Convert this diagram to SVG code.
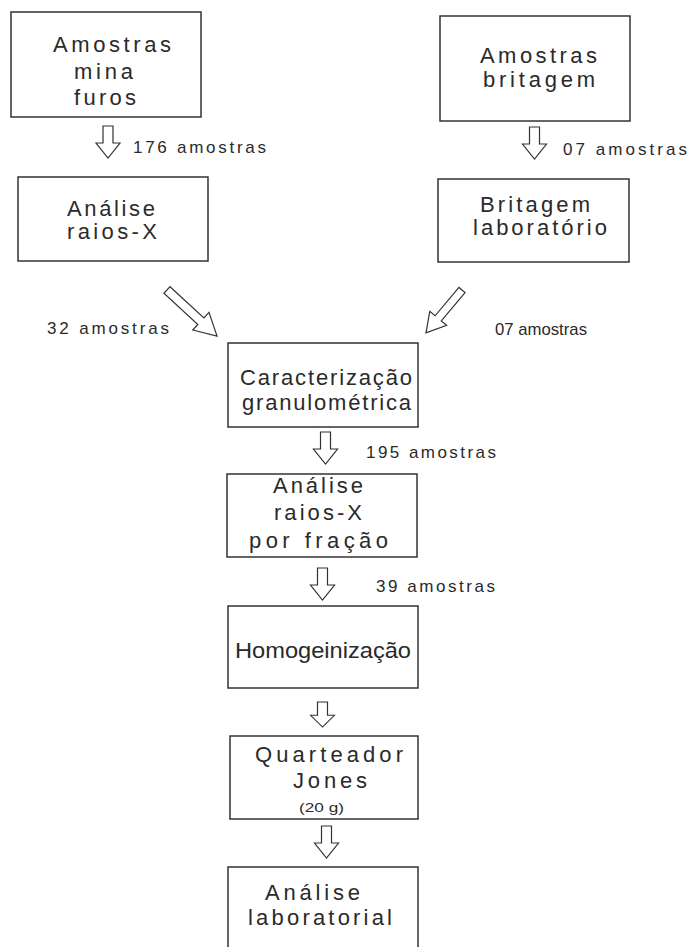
<svg xmlns="http://www.w3.org/2000/svg" width="690" height="947" viewBox="0 0 690 947">
<style>
.box{fill:#fff;stroke:#333;stroke-width:1.5}
.t{font-family:"Liberation Sans",Arial,sans-serif;font-size:22px;fill:#2a2a2a}
.l{font-family:"Liberation Sans",Arial,sans-serif;font-size:17px;fill:#2a2a2a}
.s{font-family:"Liberation Sans",Arial,sans-serif;font-size:12px;fill:#2a2a2a}
.arr{fill:#fff;stroke:#333;stroke-width:1.2;stroke-linejoin:miter}
</style>
<defs>
<polygon id="down" points="-5,0 5,0 5,17 12,17 0,32 -12,17 -5,17"/>
</defs>
<rect width="690" height="947" fill="#fff"/>
<g id="n1"><rect class="box" x="11" y="12" width="190" height="105"/>
<text class="t" x="53" y="52" textLength="118" lengthAdjust="spacing">Amostras</text>
<text class="t" x="74" y="79" textLength="59" lengthAdjust="spacing">mina</text>
<text class="t" x="74" y="105" textLength="62" lengthAdjust="spacing">furos</text></g>
<g id="n2"><rect class="box" x="440" y="16" width="190" height="105"/>
<text class="t" x="480" y="63" textLength="117" lengthAdjust="spacing">Amostras</text>
<text class="t" x="483" y="87" textLength="112" lengthAdjust="spacing">britagem</text></g>
<g id="n3"><rect class="box" x="18" y="177" width="190" height="84"/>
<text class="t" x="67" y="216" textLength="88" lengthAdjust="spacing">Análise</text>
<text class="t" x="67" y="239" textLength="90" lengthAdjust="spacing">raios-X</text></g>
<g id="n4"><rect class="box" x="438" y="179" width="191" height="83"/>
<text class="t" x="480" y="212" textLength="110" lengthAdjust="spacing">Britagem</text>
<text class="t" x="473" y="235" textLength="134" lengthAdjust="spacing">laboratório</text></g>
<g id="n5"><rect class="box" x="228" y="343" width="190" height="84"/>
<text class="t" x="240" y="385" textLength="172" lengthAdjust="spacing">Caracterização</text>
<text class="t" x="242" y="410" textLength="169" lengthAdjust="spacing">granulométrica</text></g>
<g id="n6"><rect class="box" x="227" y="474" width="190" height="83"/>
<text class="t" x="273" y="493" textLength="90" lengthAdjust="spacing">Análise</text>
<text class="t" x="274" y="520" textLength="88" lengthAdjust="spacing">raios-X</text>
<text class="t" x="249" y="548" textLength="139" lengthAdjust="spacing">por fração</text></g>
<g id="n7"><rect class="box" x="228" y="606" width="190" height="82"/>
<text class="t" x="235" y="658" textLength="176" lengthAdjust="spacingAndGlyphs">Homogeinização</text></g>
<g id="n8"><rect class="box" x="230" y="736" width="188" height="83"/>
<text class="t" x="255" y="762" textLength="148" lengthAdjust="spacing">Quarteador</text>
<text class="t" x="293" y="788" textLength="74" lengthAdjust="spacing">Jones</text>
<text class="s" x="299" y="812" textLength="45" lengthAdjust="spacingAndGlyphs">(20 g)</text></g>
<g id="n9"><rect class="box" x="228" y="867" width="190" height="100"/>
<text class="t" x="265" y="900" textLength="95" lengthAdjust="spacing">Análise</text>
<text class="t" x="248" y="925" textLength="144" lengthAdjust="spacing">laboratorial</text></g>
<g id="connectors">
<use href="#down" class="arr" x="108" y="126"/>
<use href="#down" class="arr" x="534.5" y="127"/>
<use href="#down" class="arr" x="325.5" y="432"/>
<use href="#down" class="arr" x="322.5" y="568"/>
<use href="#down" class="arr" transform="translate(322.5 702) scale(1 0.78)" />
<use href="#down" class="arr" x="326.5" y="826"/>
<polygon class="arr" transform="translate(167 290) rotate(42.6)" points="0,-4.5 46,-4.5 46,-12 68,0 46,12 46,4.5 0,4.5"/>
<polygon class="arr" transform="translate(462 290) rotate(130)" points="0,-4 37,-4 37,-11 56,0 37,11 37,4 0,4"/>
<text class="l" x="133" y="153" textLength="133" lengthAdjust="spacing">176 amostras</text>
<text class="l" x="563" y="155" textLength="124" lengthAdjust="spacing">07 amostras</text>
<text class="l" x="47" y="334" textLength="122" lengthAdjust="spacing">32 amostras</text>
<text class="l" x="495" y="335" textLength="92" lengthAdjust="spacingAndGlyphs">07 amostras</text>
<text class="l" x="366" y="458" textLength="130" lengthAdjust="spacing">195 amostras</text>
<text class="l" x="376" y="592" textLength="119" lengthAdjust="spacing">39 amostras</text>
</g>
</svg>
